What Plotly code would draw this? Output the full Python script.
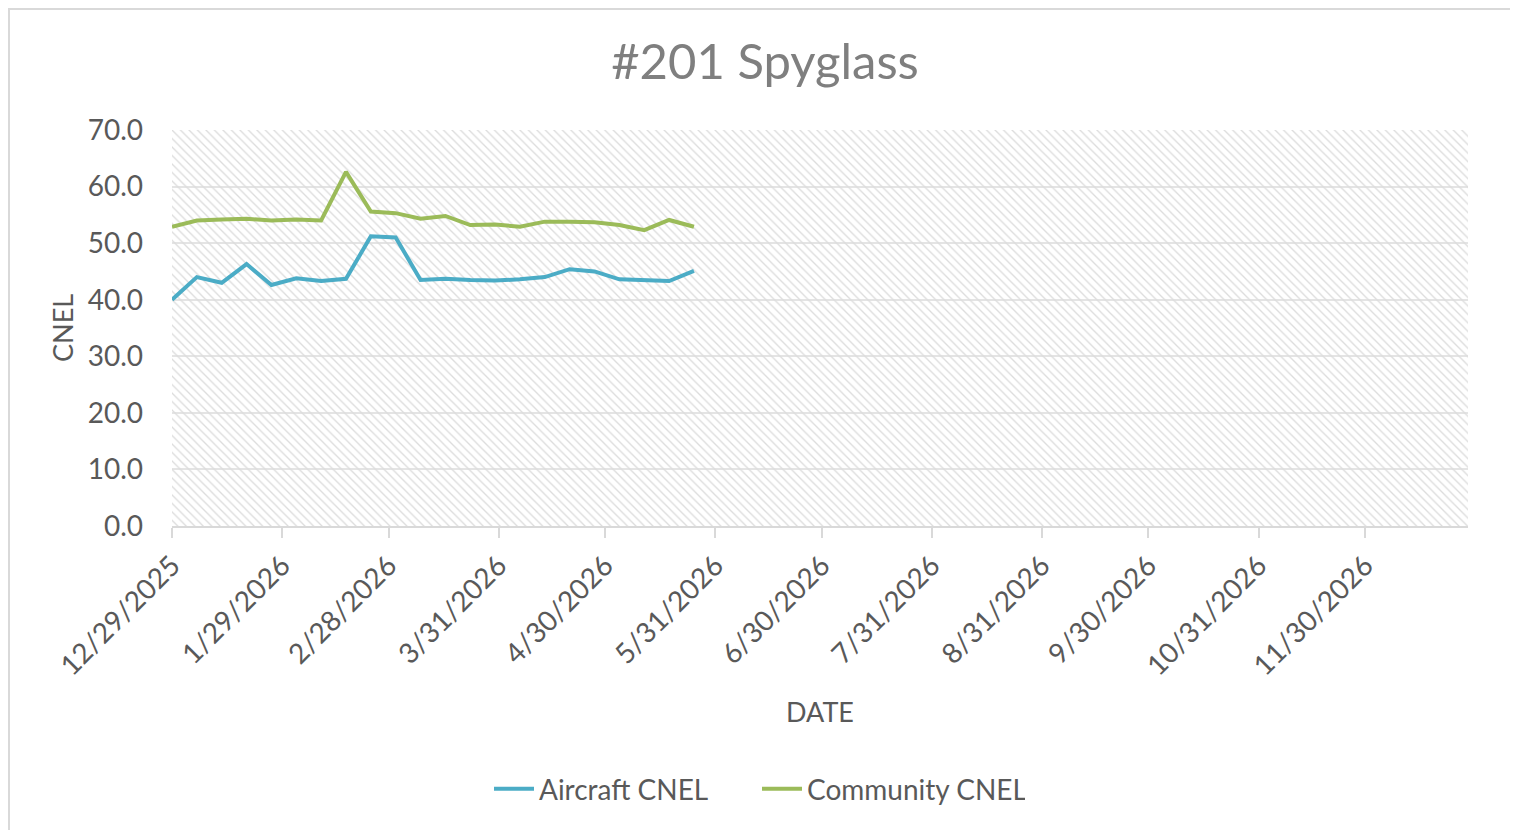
import plotly.graph_objects as go

# ---- data ----
dates = ["2025-12-29", "2026-01-05", "2026-01-12", "2026-01-19", "2026-01-26",
         "2026-02-02", "2026-02-09", "2026-02-16", "2026-02-23", "2026-03-02",
         "2026-03-09", "2026-03-16", "2026-03-23", "2026-03-30", "2026-04-06",
         "2026-04-13", "2026-04-20", "2026-04-27", "2026-05-04", "2026-05-11",
         "2026-05-18", "2026-05-25"]
aircraft_cnel = [40.0, 44.0, 43.0, 46.3, 42.6, 43.8, 43.3, 43.7, 51.2, 51.0,
                 43.5, 43.7, 43.5, 43.4, 43.6, 44.0, 45.4, 45.0, 43.6, 43.5,
                 43.3, 45.1]
community_cnel = [52.9, 54.0, 54.2, 54.3, 54.0, 54.2, 54.0, 62.6, 55.6, 55.3,
                  54.3, 54.8, 53.2, 53.3, 52.9, 53.8, 53.8, 53.7, 53.2, 52.3,
                  54.1, 52.9]
tick_dates = ["2025-12-29", "2026-01-29", "2026-02-28", "2026-03-31", "2026-04-30",
              "2026-05-31", "2026-06-30", "2026-07-31", "2026-08-31", "2026-09-30",
              "2026-10-31", "2026-11-30"]
tick_labels = ["12/29/2025", "1/29/2026", "2/28/2026", "3/31/2026", "4/30/2026",
               "5/31/2026", "6/30/2026", "7/31/2026", "8/31/2026", "9/30/2026",
               "10/31/2026", "11/30/2026"]
y_ticks = [0, 10, 20, 30, 40, 50, 60, 70]
X_START, X_END = "2025-12-29", "2026-12-29"
Y_MIN, Y_MAX = 0, 70

FONT = "Lato"
TXT = "#595959"

fig = go.Figure()

# hatched plot-area background
fig.add_trace(go.Scatter(
    x=[X_START, X_END, X_END, X_START, X_START],
    y=[Y_MIN, Y_MIN, Y_MAX, Y_MAX, Y_MIN],
    fill="toself", mode="none", fillcolor="rgba(0,0,0,0)",
    fillpattern=dict(shape="\\", size=6, solidity=0.22,
                     fgcolor="#dcdcdc", bgcolor="rgba(0,0,0,0)", fgopacity=1),
    hoverinfo="skip", showlegend=False))

fig.add_trace(go.Scatter(x=dates, y=aircraft_cnel, mode="lines", name="Aircraft CNEL",
                         line=dict(color="#4BACC6", width=4)))
fig.add_trace(go.Scatter(x=dates, y=community_cnel, mode="lines", name="Community CNEL",
                         line=dict(color="#9BBB59", width=4)))

OFF = 8  # page body offset
W, H = 1518, 830
L, T = 172 - OFF, 130 - OFF
pw, ph = 1296, 396
R, B = W - L - pw, H - T - ph

def px(x):
    return (x - OFF - L) / pw

def py(y):
    return (T + ph - (y - OFF)) / ph

fig.update_layout(
    width=W, height=H,
    margin=dict(l=L, r=R, t=T, b=B, autoexpand=False),
    paper_bgcolor="white", plot_bgcolor="white",
    font=dict(family=FONT, color=TXT, size=26),
    title=dict(text="#201 Spyglass", xref="paper", x=px(765), xanchor="center",
               yref="container", y=1 - (62 - OFF) / H, yanchor="middle",
               font=dict(family=FONT, size=49, color="#7f7f7f")),
    showlegend=True,
    legend=dict(orientation="h", x=px(757), xanchor="center", y=py(789), yanchor="middle",
                font=dict(family=FONT, size=28, color=TXT), itemwidth=40,
                entrywidth=213, entrywidthmode="pixels",
                bgcolor="rgba(0,0,0,0)", tracegroupgap=0),
    xaxis=dict(type="date", range=[X_START, X_END], tickvals=tick_dates, ticktext=tick_labels,
               tickangle=-45, showgrid=False, showline=True, linecolor="#d9d9d9", linewidth=2,
               ticks="outside", ticklen=10, tickwidth=2, tickcolor="#d9d9d9",
               tickfont=dict(family=FONT, size=28, color=TXT), zeroline=False),
    yaxis=dict(range=[Y_MIN, Y_MAX], tickvals=y_ticks, tickformat=".1f",
               showgrid=True, gridcolor="#e4e4e4", gridwidth=2, zeroline=False,
               showline=False, ticks="", ticklabelstandoff=28,
               tickfont=dict(family=FONT, size=28, color=TXT)),
    annotations=[
        dict(text="CNEL", x=px(62), y=py(328), xref="paper", yref="paper",
             textangle=-90, showarrow=False, font=dict(family=FONT, size=27, color=TXT),
             xanchor="center", yanchor="middle"),
        dict(text="DATE", x=px(820), y=py(711), xref="paper", yref="paper",
             showarrow=False, font=dict(family=FONT, size=27, color=TXT),
             xanchor="center", yanchor="middle"),
    ],
    shapes=[dict(type="rect", xref="paper", yref="paper",
                 x0=px(OFF + 1), x1=px(1512), y0=py(845), y1=py(OFF + 1),
                 line=dict(color="#d9d9d9", width=2), fillcolor="rgba(0,0,0,0)", layer="below")],
)

fig.write_html("out.html")
